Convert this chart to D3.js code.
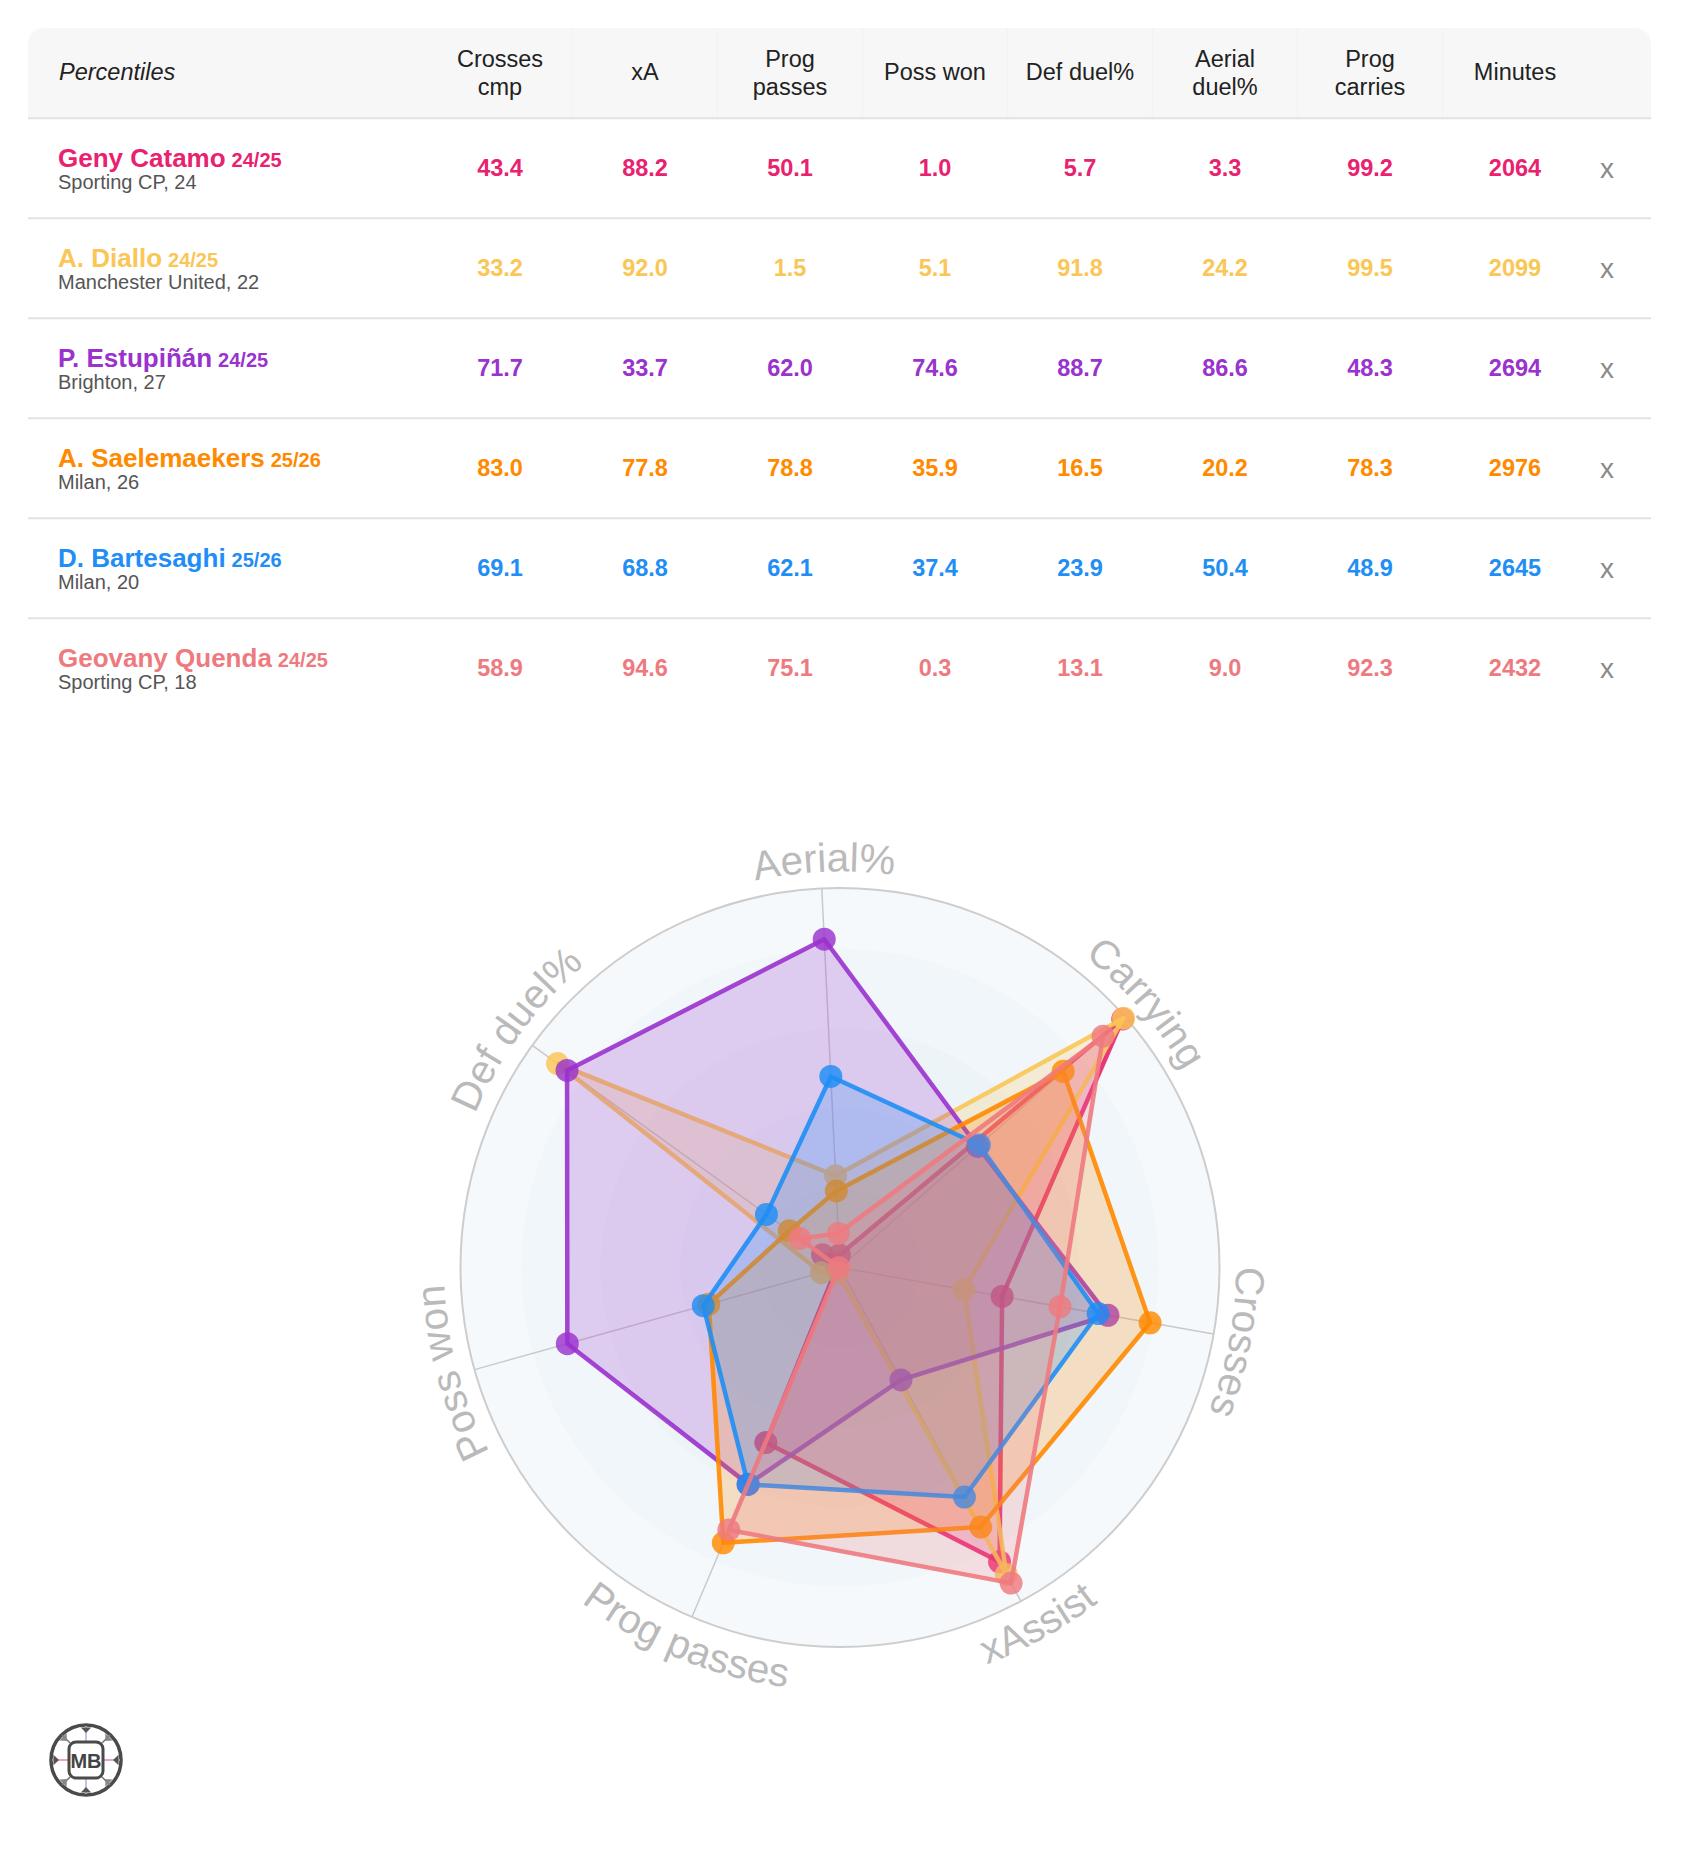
<!DOCTYPE html>
<html>
<head>
<meta charset="utf-8">
<title>Percentiles radar</title>
<script src="https://d3js.org/d3.v7.min.js"></script>
<style>
  body { margin: 0; background: #fff; }
  svg { display: block; font-family: "Liberation Sans", Arial, Helvetica, sans-serif; }
</style>
</head>
<body>
<svg width="1682" height="1870"></svg>
<script>
// ---- data ----
const players = ["Geny Catamo", "A. Diallo", "P. Estupiñán", "A. Saelemaekers", "D. Bartesaghi", "Geovany Quenda"];
const seasons = ["24/25", "24/25", "24/25", "25/26", "25/26", "24/25"];
const clubs = ["Sporting CP, 24", "Manchester United, 22", "Brighton, 27", "Milan, 26", "Milan, 20", "Sporting CP, 18"];
const colors = ["#e9226f", "#fac655", "#9a32cd", "#ff8a00", "#1f8ef5", "#ee7a80"];

const headers = [["Crosses", "cmp"], ["xA"], ["Prog", "passes"], ["Poss won"], ["Def duel%"], ["Aerial", "duel%"], ["Prog", "carries"], ["Minutes"]];
const crossesCmp  = [43.4, 33.2, 71.7, 83.0, 69.1, 58.9];
const xA          = [88.2, 92.0, 33.7, 77.8, 68.8, 94.6];
const progPasses  = [50.1, 1.5, 62.0, 78.8, 62.1, 75.1];
const possWon     = [1.0, 5.1, 74.6, 35.9, 37.4, 0.3];
const defDuel     = [5.7, 91.8, 88.7, 16.5, 23.9, 13.1];
const aerialDuel  = [3.3, 24.2, 86.6, 20.2, 50.4, 9.0];
const progCarries = [99.2, 99.5, 48.3, 78.3, 48.9, 92.3];
const minutes     = [2064, 2099, 2694, 2976, 2645, 2432];

const axisLabels = ["Aerial%", "Carrying", "Crosses", "xAssist", "Prog passes", "Poss won", "Def duel%"];
const axisSeries = [aerialDuel, progCarries, crossesCmp, xA, progPasses, possWon, defDuel];

const svg = d3.select('svg');

// ---- table ----
const cardL = 28, cardR = 1651, cardT = 28, headB = 118.3;
const columns = [crossesCmp, xA, progPasses, possWon, defDuel, aerialDuel, progCarries, minutes];
const colX = d3.scaleLinear().domain([0, 7]).range([500, 1515]);
const rowY = d3.scaleBand().domain(d3.range(players.length)).range([headB, headB + 100 * players.length]);

const rr = 18;
svg.append('path')
  .attr('d', `M${cardL},${headB} V${cardT + rr} Q${cardL},${cardT} ${cardL + rr},${cardT} H${cardR - rr} Q${cardR},${cardT} ${cardR},${cardT + rr} V${headB} Z`)
  .attr('fill', '#f7f7f7');

// faint header dividers
svg.append('g').selectAll('line')
  .data(d3.range(0.5, 7, 1))
  .join('line')
  .attr('x1', d => colX(d)).attr('x2', d => colX(d))
  .attr('y1', cardT).attr('y2', headB)
  .attr('stroke', '#f3f3f3').attr('stroke-width', 1.5);

svg.append('line')
  .attr('x1', cardL).attr('x2', cardR).attr('y1', headB).attr('y2', headB)
  .attr('stroke', '#e2e2e2').attr('stroke-width', 2);

svg.append('text')
  .attr('x', 59).attr('y', 80)
  .attr('font-size', 23.5).attr('font-style', 'italic').attr('fill', '#222')
  .text('Percentiles');

const head = svg.append('g').selectAll('text')
  .data(headers)
  .join('text')
  .attr('text-anchor', 'middle')
  .attr('font-size', 23.5).attr('fill', '#222');
head.selectAll('tspan')
  .data((d, i) => d.map(t => ({ t, i, n: d.length })))
  .join('tspan')
  .attr('x', d => colX(d.i))
  .attr('y', (d, j) => d.n === 1 ? 80 : 67 + 28 * j)
  .text(d => d.t);

const rows = svg.append('g').selectAll('g')
  .data(players)
  .join('g')
  .attr('transform', (d, i) => `translate(0, ${rowY(i)})`);

rows.filter((d, i) => i < players.length - 1)
  .append('line')
  .attr('x1', cardL).attr('x2', cardR).attr('y1', 100).attr('y2', 100)
  .attr('stroke', '#e2e2e2').attr('stroke-width', 2);

const nameText = rows.append('text')
  .attr('x', 58).attr('y', 48.4)
  .attr('font-weight', 'bold')
  .attr('fill', (d, i) => colors[i]);
nameText.append('tspan').attr('font-size', 26).text(d => d);
nameText.append('tspan').attr('font-size', 20).attr('dx', 6).text((d, i) => seasons[i]);

rows.append('text')
  .attr('x', 58).attr('y', 71)
  .attr('font-size', 20).attr('fill', '#555')
  .text((d, i) => clubs[i]);

rows.each(function(d, i) {
  d3.select(this).selectAll('text.val')
    .data(columns)
    .join('text')
    .attr('class', 'val')
    .attr('x', (c, j) => colX(j))
    .attr('y', 57.7)
    .attr('text-anchor', 'middle')
    .attr('font-size', 23.5).attr('font-weight', 'bold')
    .attr('fill', colors[i])
    .text((c, j) => j === 7 ? c[i] : c[i].toFixed(1));
});

rows.append('text')
  .attr('x', 1607).attr('y', 60)
  .attr('text-anchor', 'middle')
  .attr('font-size', 28).attr('fill', '#8a8a8a')
  .text('x');

// ---- radar ----
const cx = 840, cy = 1267.5, R = 379.5;
const rScale = d3.scaleLinear().domain([0, 100]).range([0, R]);
const angDeg = d3.scaleLinear().domain([0, axisLabels.length]).range([-2.75, 357.25]);
const ang = i => angDeg(i) * Math.PI / 180;

const radar = svg.append('g').attr('transform', `translate(${cx}, ${cy})`);

radar.append('circle').attr('r', R)
  .attr('fill', '#f6f9fc').attr('stroke', '#cdcdcd').attr('stroke-width', 2);
radar.append('g').selectAll('circle')
  .data([84, 63, 42, 21])
  .join('circle')
  .attr('r', d => rScale(d))
  .attr('fill', '#e4eef6').attr('fill-opacity', 0.3);

radar.append('g').selectAll('line')
  .data(axisLabels)
  .join('line')
  .attr('x1', 0).attr('y1', 0)
  .attr('x2', (d, i) => R * Math.sin(ang(i)))
  .attr('y2', (d, i) => -R * Math.cos(ang(i)))
  .attr('stroke', '#c9c9c9').attr('stroke-width', 1.5);

const lineGen = d3.lineRadial()
  .angle((d, i) => ang(i))
  .radius(d => rScale(d))
  .curve(d3.curveLinearClosed);

players.forEach((p, k) => {
  const vals = axisSeries.map(s => s[k]);
  const g = radar.append('g');
  g.append('path')
    .attr('d', lineGen(vals))
    .attr('fill', colors[k]).attr('fill-opacity', 0.22)
    .attr('stroke', colors[k]).attr('stroke-opacity', 0.9)
    .attr('stroke-width', 4.5).attr('stroke-linejoin', 'round');
  g.selectAll('circle')
    .data(vals)
    .join('circle')
    .attr('cx', (d, i) => rScale(d) * Math.sin(ang(i)))
    .attr('cy', (d, i) => -rScale(d) * Math.cos(ang(i)))
    .attr('r', 11.5)
    .attr('fill', colors[k]).attr('fill-opacity', 0.82);
});

// axis labels along the rim (paths live in the radar's own coordinates)
function arcPath(rad, a0, a1, sweep) {
  const p0 = [rad * Math.sin(a0), -rad * Math.cos(a0)];
  const p1 = [rad * Math.sin(a1), -rad * Math.cos(a1)];
  return `M${p0[0]},${p0[1]} A${rad},${rad} 0 0 ${sweep} ${p1[0]},${p1[1]}`;
}
const defs = radar.append('defs');
axisLabels.forEach((lab, i) => {
  const a = angDeg(i);
  const flip = a > 120 && a < 240;
  const c = (flip ? a - 0.5 : a + 0.5) * Math.PI / 180;
  const span = 70 * Math.PI / 180;
  defs.append('path')
    .attr('id', 'lab' + i)
    .attr('d', flip ? arcPath(423, c + span, c - span, 0) : arcPath(396, c - span, c + span, 1));
  radar.append('text')
    .attr('font-size', 40.5).attr('fill', '#bababa')
    .append('textPath')
    .attr('href', '#lab' + i)
    .attr('startOffset', '50%')
    .attr('text-anchor', 'middle')
    .text(lab);
});

// ---- logo ----
const logo = svg.append('g').attr('transform', 'translate(86, 1760)');
logo.append('circle').attr('r', 35).attr('fill', '#fff').attr('stroke', '#4a4a4a').attr('stroke-width', 3.5);
logo.append('g').selectAll('line')
  .data([[0, -18, 0, -34, '#b9b2de'], [0, 18, 0, 34, '#b9b2de'], [-17, 0, -34, 0, '#e88cb0'], [17, 0, 34, 0, '#e88cb0'],
         [-16, -17, -24, -25, '#777'], [16, -17, 24, -25, '#777'], [-16, 17, -24, 25, '#777'], [16, 17, 24, 25, '#777']])
  .join('line')
  .attr('x1', d => d[0]).attr('y1', d => d[1]).attr('x2', d => d[2]).attr('y2', d => d[3])
  .attr('stroke', d => d[4]).attr('stroke-width', 1.6);
logo.append('g').selectAll('path')
  .data([0, 90, 180, 270, 45, 135, 225, 315])
  .join('path')
  .attr('d', d => {
    const a0 = (d - 9) * Math.PI / 180, a1 = (d + 9) * Math.PI / 180;
    return `M${33 * Math.sin(a0)},${-33 * Math.cos(a0)} L${27 * Math.sin(d * Math.PI / 180)},${-27 * Math.cos(d * Math.PI / 180)} L${33 * Math.sin(a1)},${-33 * Math.cos(a1)} Z`;
  })
  .attr('fill', (d, i) => i < 4 ? '#555' : '#888');
logo.append('rect').attr('x', -17).attr('y', -18).attr('width', 34).attr('height', 36).attr('rx', 7)
  .attr('fill', '#fff').attr('stroke', '#4a4a4a').attr('stroke-width', 3);
logo.append('text').attr('y', 7.5).attr('text-anchor', 'middle')
  .attr('font-size', 20).attr('font-weight', 'bold').attr('fill', '#444')
  .text('MB');
</script>
</body>
</html>
